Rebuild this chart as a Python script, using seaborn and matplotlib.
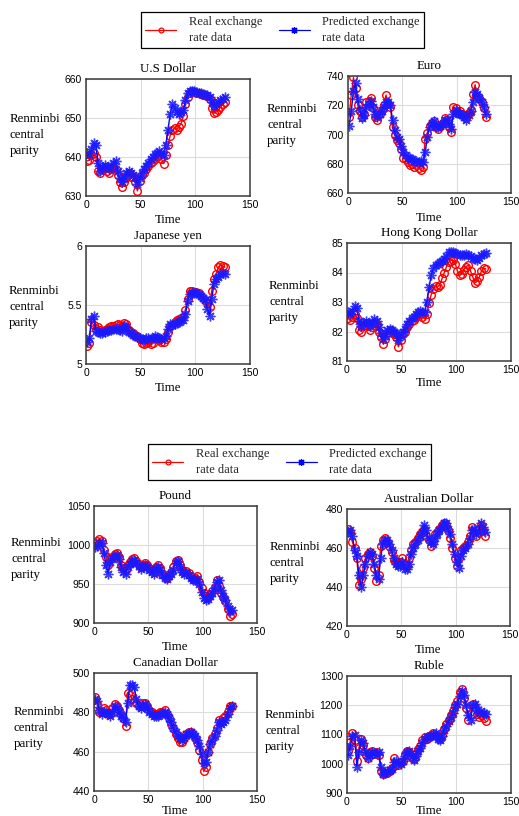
import numpy as np
import matplotlib
matplotlib.use("Agg")
import matplotlib.pyplot as plt
from matplotlib.lines import Line2D
import seaborn as sns

# Sampling days (every other trading day)
time = list(range(1, 128, 2))

usd_real = [639.0, 639.2, 640.5, 641.0, 640.0, 636.5, 635.8, 636.8, 637.5, 636.5, 636.0, 636.8, 637.5, 637.0, 635.5, 633.5,
            632.2, 633.5, 635.0, 635.8, 635.0, 634.8, 633.5, 631.3, 633.8, 635.5, 636.0, 637.0, 637.8, 638.5, 639.0, 639.5,
            640.0, 640.5, 639.5, 638.3, 640.5, 643.0, 645.5, 646.8, 647.5, 647.0, 647.8, 648.5, 650.5, 653.5, 655.5, 656.5,
            656.8, 656.7, 656.5, 656.3, 656.2, 656.0, 655.9, 655.6, 655.0, 652.5, 651.2, 651.5, 652.0, 652.8, 653.5, 654.2]
usd_pred = [641.0, 640.5, 642.0, 643.5, 643.0, 638.5, 636.5, 637.5, 638.0, 637.5, 636.8, 637.5, 638.5, 639.0, 636.5, 634.5,
            633.5, 634.5, 636.0, 636.5, 636.0, 635.5, 635.0, 633.0, 634.5, 636.0, 637.0, 637.8, 638.5, 639.5, 640.0, 640.8,
            641.0, 641.5, 641.0, 640.5, 643.0, 647.0, 651.0, 653.5, 652.5, 651.5, 651.0, 651.5, 652.0, 654.5, 656.5, 657.0,
            657.0, 656.8, 656.6, 656.4, 656.3, 656.2, 656.0, 655.8, 655.5, 654.0, 653.0, 653.5, 654.0, 654.5, 655.0, 655.5]

eur_real = [712, 727, 739, 732, 720, 716, 712, 714, 722, 723, 725, 718, 712, 710, 714, 717,
            720, 727, 721, 719, 705, 700, 696, 694, 690, 684, 683, 681, 679, 680, 678, 679,
            677, 676, 678, 697, 701, 706, 708, 709, 705, 704, 706, 708, 711, 710, 705, 702,
            719, 718, 715, 716, 714, 713, 711, 715, 717, 728, 734, 726, 725, 722, 718, 712]
eur_pred = [706, 716, 730, 735, 724, 717, 711, 713, 719, 721, 723, 719, 714, 712, 714, 716,
            719, 722, 722, 720, 710, 703, 698, 697, 692, 688, 686, 684, 684, 683, 682, 682,
            681, 682, 681, 688, 698, 705, 708, 709, 706, 705, 706, 707, 710, 710, 707, 704,
            714, 717, 715, 714, 713, 712, 710, 713, 716, 722, 729, 728, 725, 722, 719, 714]

jpy_real = [5.15, 5.18, 5.36, 5.33, 5.30, 5.31, 5.29, 5.28, 5.29, 5.30, 5.31, 5.32, 5.32, 5.33, 5.34, 5.33,
            5.31, 5.35, 5.34, 5.29, 5.27, 5.26, 5.25, 5.24, 5.21, 5.18, 5.17, 5.18, 5.19, 5.17, 5.18, 5.22,
            5.21, 5.20, 5.19, 5.19, 5.21, 5.27, 5.32, 5.33, 5.36, 5.37, 5.38, 5.39, 5.40, 5.46, 5.55, 5.62,
            5.62, 5.61, 5.61, 5.60, 5.58, 5.56, 5.54, 5.52, 5.48, 5.62, 5.72, 5.76, 5.82, 5.84, 5.83, 5.82]
jpy_pred = [5.19, 5.22, 5.38, 5.41, 5.28, 5.27, 5.26, 5.26, 5.27, 5.28, 5.29, 5.29, 5.30, 5.30, 5.30, 5.29,
            5.28, 5.32, 5.31, 5.27, 5.26, 5.25, 5.24, 5.23, 5.22, 5.21, 5.20, 5.22, 5.22, 5.21, 5.22, 5.24,
            5.23, 5.22, 5.21, 5.22, 5.24, 5.30, 5.34, 5.33, 5.34, 5.35, 5.36, 5.37, 5.37, 5.42, 5.53, 5.59,
            5.60, 5.60, 5.60, 5.59, 5.58, 5.56, 5.54, 5.47, 5.41, 5.55, 5.68, 5.72, 5.74, 5.76, 5.77, 5.76]

hkd_real = [82.45, 82.40, 82.50, 82.60, 82.45, 82.05, 82.00, 82.20, 82.30, 82.20, 82.05, 82.15, 82.30, 82.25, 82.00, 81.80,
            81.58, 81.75, 81.95, 82.05, 81.95, 81.90, 81.80, 81.48, 81.70, 81.90, 82.00, 82.15, 82.25, 82.35, 82.40, 82.50,
            82.55, 82.60, 82.50, 82.42, 82.60, 82.95, 83.25, 83.45, 83.55, 83.52, 83.58, 83.80, 84.00, 84.20, 84.35, 84.40,
            84.42, 84.30, 84.05, 83.90, 83.95, 84.10, 84.20, 84.25, 84.05, 83.85, 83.65, 83.70, 83.85, 84.05, 84.15, 84.12]
hkd_pred = [82.65, 82.60, 82.70, 82.85, 82.80, 82.35, 82.20, 82.30, 82.35, 82.30, 82.20, 82.30, 82.42, 82.35, 82.15, 81.95,
            81.75, 81.85, 82.05, 82.10, 82.05, 82.00, 81.95, 81.70, 81.85, 82.00, 82.10, 82.25, 82.35, 82.45, 82.50, 82.60,
            82.65, 82.70, 82.65, 82.65, 83.00, 83.50, 83.90, 84.15, 84.25, 84.30, 84.35, 84.40, 84.45, 84.55, 84.68, 84.70,
            84.68, 84.65, 84.62, 84.60, 84.58, 84.60, 84.62, 84.60, 84.55, 84.50, 84.45, 84.42, 84.50, 84.58, 84.62, 84.65]

gbp_real = [1003, 1005, 1008, 1005, 994, 985, 975, 982, 985, 988, 990, 984, 975, 970, 968, 975,
            978, 982, 983, 980, 976, 972, 975, 977, 974, 970, 969, 966, 972, 975, 970, 963,
            961, 958, 962, 965, 972, 980, 981, 975, 968, 965, 967, 964, 960, 957, 958, 960,
            952, 945, 938, 934, 933, 937, 941, 946, 955, 948, 938, 933, 928, 918, 909, 912]
gbp_pred = [998, 999, 1003, 1003, 990, 975, 963, 978, 983, 986, 987, 982, 972, 966, 963, 972,
            976, 980, 981, 977, 973, 969, 972, 975, 972, 968, 966, 963, 969, 972, 968, 961,
            958, 956, 960, 963, 968, 977, 979, 972, 966, 963, 964, 962, 958, 955, 955, 957,
            950, 940, 932, 930, 931, 934, 939, 945, 953, 955, 942, 935, 930, 922, 915, 917]

aud_real = [470, 468, 463, 460, 455, 441, 444, 450, 455, 457, 458, 456, 450, 443, 446, 461,
            464, 465, 463, 461, 458, 454, 453, 452, 453, 455, 452, 451, 455, 459, 462, 463,
            465, 467, 468, 470, 466, 464, 461, 463, 467, 468, 470, 472, 473, 472, 469, 465,
            460, 455, 451, 455, 459, 460, 461, 463, 466, 471, 468, 466, 470, 472, 469, 466]
aud_pred = [468, 469, 466, 459, 456, 446, 440, 446, 452, 456, 458, 457, 452, 446, 444, 455,
            462, 464, 464, 462, 459, 455, 452, 451, 451, 453, 449, 449, 452, 457, 460, 462,
            464, 466, 468, 472, 469, 465, 463, 462, 465, 467, 469, 471, 473, 473, 470, 467,
            462, 457, 453, 450, 456, 459, 460, 462, 465, 469, 470, 467, 468, 473, 471, 468]

cad_real = [488, 484, 480, 480, 482, 481, 479, 479, 482, 484, 483, 481, 479, 477, 473, 490,
            489, 487, 486, 485, 483, 483, 485, 485, 483, 481, 480, 479, 479, 479, 480, 480,
            481, 479, 477, 474, 472, 469, 467, 465, 465, 467, 469, 470, 470, 469, 467, 465,
            461, 456, 450, 452, 460, 464, 467, 469, 472, 476, 475, 477, 478, 480, 483, 483]
cad_pred = [487, 486, 481, 479, 480, 480, 479, 478, 480, 483, 482, 480, 478, 477, 475, 485,
            494, 494, 493, 487, 483, 482, 483, 484, 482, 480, 479, 478, 478, 478, 479, 479,
            480, 479, 477, 475, 472, 470, 468, 467, 466, 467, 469, 469, 470, 469, 468, 466,
            463, 459, 454, 455, 460, 464, 466, 468, 471, 475, 474, 475, 476, 479, 482, 483]

rub_real = [1045, 1075, 1105, 1080, 1010, 1055, 1085, 1065, 1030, 1020, 1040, 1045, 1035, 1040, 1030, 975,
            965, 968, 970, 975, 985, 1020, 1000, 995, 1005, 1010, 1035, 1045, 1040, 1020, 1015, 1035,
            1050, 1060, 1080, 1090, 1085, 1095, 1100, 1105, 1100, 1090, 1085, 1100, 1120, 1135, 1150, 1165,
            1180, 1200, 1215, 1245, 1255, 1225, 1190, 1150, 1170, 1205, 1195, 1170, 1160, 1165, 1155, 1145]
rub_pred = [1030, 1060, 1095, 1100, 990, 1040, 1080, 1070, 1040, 1020, 1030, 1040, 1038, 1035, 1040, 990,
            965, 970, 975, 978, 982, 1005, 1010, 998, 1000, 1008, 1025, 1040, 1045, 1025, 1012, 1025,
            1045, 1055, 1070, 1085, 1090, 1090, 1095, 1100, 1105, 1085, 1080, 1095, 1115, 1130, 1145, 1160,
            1175, 1195, 1205, 1230, 1250, 1235, 1200, 1165, 1150, 1200, 1205, 1185, 1175, 1180, 1175, 1170]

x_ticks = [0, 50, 100, 150]

sns.set_theme(style="white")
SERIF = ["Liberation Serif", "DejaVu Serif"]
SANS = ["Liberation Sans", "DejaVu Sans"]
plt.rcParams["font.family"] = SANS

W, H = 519, 816
fig = plt.figure(figsize=(W / 100, H / 100), dpi=100)

ASTERISK = (8, 2, 0)

# (title, real, predicted, ylim, yticks, yticklabels,
#  axes box in px (left, right, top, bottom), ylabel anchor in px (left, center y), "Time" offset px)
panels = [
    ("U.S Dollar", usd_real, usd_pred, (630, 660), [630, 640, 650, 660], None, (86, 250, 79, 196), (10, 135), 18),
    ("Euro", eur_real, eur_pred, (660, 740), [660, 680, 700, 720, 740], None, (348, 511, 76, 193), (267, 125), 19),
    ("Japanese yen", jpy_real, jpy_pred, (5, 6), [5, 5.5, 6], ["5", "5.5", "6"], (86, 250, 246, 364), (9, 307), 18),
    ("Hong Kong Dollar", hkd_real, hkd_pred, (81, 85), [81, 82, 83, 84, 85], None, (347, 511, 243, 361), (269, 302), 16),
    ("Pound", gbp_real, gbp_pred, (900, 1050), [900, 950, 1000, 1050], None, (94, 257, 506, 623), (11, 559), 18),
    ("Australian Dollar", aud_real, aud_pred, (420, 480), [420, 440, 460, 480], None, (347, 510, 509, 626), (270, 563), 18),
    ("Canadian Dollar", cad_real, cad_pred, (440, 500), [440, 460, 480, 500], None, (94, 257, 673, 791), (14, 728), 14),
    ("Ruble", rub_real, rub_pred, (900, 1300), [900, 1000, 1100, 1200, 1300], None, (347, 511, 676, 793), (265, 731), 12),
]

for title, real, pred, ylim, yticks, yticklabels, box, lab, toff in panels:
    l, r, t, b = box
    ax = fig.add_axes([l / W, 1 - b / H, (r - l) / W, (b - t) / H])
    sns.lineplot(x=time, y=real, ax=ax, color="red", linewidth=1.0,
                 marker="o", markersize=5.5, markerfacecolor="none",
                 markeredgecolor="red", markeredgewidth=1.0,
                 estimator=None, sort=False)
    sns.lineplot(x=time, y=pred, ax=ax, color="blue", linewidth=1.0,
                 marker=ASTERISK, markersize=7, markerfacecolor="blue",
                 markeredgecolor=(0.1, 0.1, 1.0, 0.85), markeredgewidth=1.0,
                 estimator=None, sort=False)
    ax.set_xlim(0, 150)
    ax.set_ylim(*ylim)
    ax.set_xticks(x_ticks)
    ax.set_yticks(yticks)
    if yticklabels:
        ax.set_yticklabels(yticklabels)
    ax.grid(True, color="#dcdcdc", linewidth=0.8)
    ax.set_axisbelow(True)
    for sp in ax.spines.values():
        sp.set_color("#3a3a3a")
        sp.set_linewidth(1.1)
    ax.tick_params(direction="in", length=3, width=0.6, color="#3a3a3a",
                   labelsize=7.5, labelcolor="black", pad=3)
    for lbl in ax.get_xticklabels() + ax.get_yticklabels():
        lbl.set_fontfamily(SANS)
    ax.set_title(title, family=SERIF, fontsize=9.3, color="black", pad=5)
    ax.set_xlabel("Time", family=SERIF, fontsize=9.3, color="black")
    ax.xaxis.set_label_coords(0.5, -toff / (b - t))
    ax.set_ylabel("Renminbi\ncentral\nparity", family=SERIF, fontsize=9.3,
                  color="black", rotation=0, ha="left", va="center",
                  multialignment="left", linespacing=1.45)
    ax.yaxis.set_label_coords((lab[0] - l) / (r - l), (b - lab[1]) / (b - t))

handles = [
    Line2D([0], [0], color="red", linewidth=0.9, marker="o", markersize=3.5,
           markerfacecolor="none", markeredgecolor="red", markeredgewidth=0.9),
    Line2D([0], [0], color="blue", linewidth=0.9, marker=ASTERISK, markersize=5,
           markerfacecolor="blue", markeredgecolor="blue", markeredgewidth=0.9),
]
labels = ["Real exchange\nrate data", "Predicted exchange\nrate data"]

for cx, cy in [(282.5, 30), (289.5, 462)]:
    leg = fig.legend(handles, labels, loc="center", bbox_to_anchor=(cx / W, 1 - cy / H),
                     ncol=2, frameon=True, fancybox=False, framealpha=1,
                     edgecolor="black", handlelength=2.5, handletextpad=1.0,
                     columnspacing=1.3, borderpad=0.35, borderaxespad=0, numpoints=1,
                     prop={"family": SERIF, "size": 9})
    leg.get_frame().set_linewidth(0.9)
    for txt in leg.get_texts():
        txt.set_linespacing(1.4)

fig.savefig("out.png", dpi=100)
